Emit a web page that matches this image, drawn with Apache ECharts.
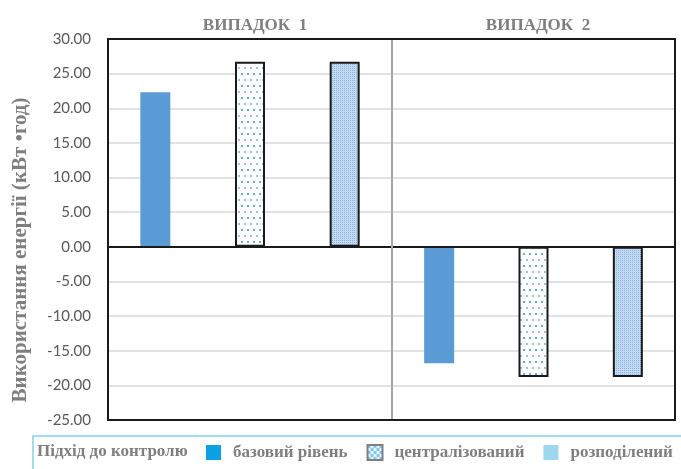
<!DOCTYPE html>
<html>
<head>
<meta charset="utf-8">
<script src="https://cdn.jsdelivr.net/npm/echarts@6/dist/echarts.min.js"></script>
<style>html,body{margin:0;padding:0;background:#fff;}#c{width:681px;height:469px;}</style>
</head>
<body>
<div id="c"></div>
<script>
// ---- data ----
var panels = ['ВИПАДОК  1', 'ВИПАДОК  2'];
var approaches = ['базовий рівень', 'централізований', 'розподілений'];
var case1 = [22.3, 26.7, 26.7];
var case2 = [-16.8, -18.8, -18.8];
var yTicks = { min: -25, max: 30, interval: 5 };
var yTitle = 'Використання енергії (кВт •год)';
var legendTitle = 'Підхід до контролю';

// ---- patterns ----
function sparseDots() {
  var c = document.createElement('canvas'); c.width = 6; c.height = 12;
  var g = c.getContext('2d');
  g.fillStyle = '#ffffff'; g.fillRect(0, 0, 6, 12);
  g.fillStyle = '#72a8dd';
  g.fillRect(1, 1, 2, 2);
  g.fillStyle = '#9cc2ea';
  g.fillRect(4, 7, 2, 2);
  return c;
}
function fineDots() {
  var c = document.createElement('canvas'); c.width = 2; c.height = 2;
  var g = c.getContext('2d');
  g.fillStyle = '#c3daf2'; g.fillRect(0, 0, 2, 2);
  g.fillStyle = '#8ab3e2'; g.fillRect(0, 0, 1, 1);
  return c;
}
function legendSpeckle() {
  var c = document.createElement('canvas'); c.width = 6; c.height = 6;
  var g = c.getContext('2d');
  g.fillStyle = '#e6f4fb'; g.fillRect(0, 0, 6, 6);
  g.fillStyle = '#7fc8ee'; g.fillRect(0, 0, 3, 3); g.fillRect(3, 3, 3, 3);
  return c;
}
var styles = [
  { color: '#5b9bd5', borderWidth: 0 },
  { color: { image: sparseDots(), repeat: 'repeat' }, borderColor: '#1a1a1a', borderWidth: 2 },
  { color: { image: fineDots(), repeat: 'repeat' }, borderColor: '#1a1a1a', borderWidth: 2 }
];
var legendStyles = [
  { color: '#0aa0e4', borderWidth: 0 },
  { color: { image: legendSpeckle(), repeat: 'repeat' }, borderColor: '#7f7f7f', borderWidth: 2 },
  { color: '#9dd7ed', borderWidth: 0 }
];

var serif = '"Liberation Serif", "DejaVu Serif", serif';
var G = { left: 108, mid: 392, right: 675, top: 39, bottom: 420 };
var grids = [
  { left: G.left, width: G.mid - G.left, top: G.top, height: G.bottom - G.top },
  { left: G.mid, width: G.right - G.mid, top: G.top, height: G.bottom - G.top }
];
function xAx(i) {
  return {
    type: 'category', gridIndex: i, data: approaches,
    axisLine: { onZero: true, lineStyle: { color: '#1a1a1a', width: 2 } },
    axisTick: { show: false }, axisLabel: { show: false }, z: 3
  };
}
function yAx(i) {
  return {
    type: 'value', gridIndex: i, min: yTicks.min, max: yTicks.max, interval: yTicks.interval,
    axisLine: { show: false },
    axisTick: { show: false },
    splitLine: { show: true, lineStyle: { color: '#e2e2e2', width: 2 } },
    axisLabel: {
      show: i === 0, color: '#595959', fontSize: 15, fontFamily: 'Lato, "Open Sans", sans-serif', margin: 17,
      formatter: function (v) { return v.toFixed(2); }
    }
  };
}
var series = [];
[case1, case2].forEach(function (vals, gi) {
  approaches.forEach(function (name, k) {
    var d = approaches.map(function (_, j) { return j === k ? vals[k] : '-'; });
    series.push({
      type: 'bar', name: name, xAxisIndex: gi, yAxisIndex: gi, stack: 'g' + gi,
      barWidth: 30, data: d, itemStyle: styles[k], emphasis: { disabled: true }, z: 2
    });
  });
});

var chart = echarts.init(document.getElementById('c'));
chart.setOption({
  animation: false,
  grid: grids,
  xAxis: [xAx(0), xAx(1)],
  yAxis: [yAx(0), yAx(1)],
  title: [
    { text: panels[0], left: 250, top: 12, textAlign: 'center',
      textStyle: { color: '#7f7f7f', fontFamily: serif, fontSize: 17, fontWeight: 'bold' } },
    { text: panels[1], left: 533, top: 12, textAlign: 'center',
      textStyle: { color: '#7f7f7f', fontFamily: serif, fontSize: 17, fontWeight: 'bold' } }
  ],
  legend: {
    left: 201, top: 439, itemWidth: 15, itemHeight: 15, itemGap: 19,
    selectedMode: false,
    textStyle: { color: '#7f7f7f', fontFamily: serif, fontSize: 17, fontWeight: 'bold', padding: [0, 0, 0, 7] },
    data: approaches.map(function (n, k) { return { name: n, icon: 'rect', itemStyle: legendStyles[k] }; })
  },
  graphic: [
    { type: 'line', z: 10, silent: true,
      shape: { x1: G.mid, y1: G.top, x2: G.mid, y2: G.bottom },
      style: { stroke: '#a6a6a6', lineWidth: 2 } },
    { type: 'rect', z: 11, silent: true,
      shape: { x: G.left, y: G.top, width: G.right - G.left, height: G.bottom - G.top },
      style: { fill: 'none', stroke: '#1a1a1a', lineWidth: 2 } },
    { type: 'rect', shape: { x: 33, y: 436, width: 700, height: 60 },
      style: { fill: 'none', stroke: '#9fdcf0', lineWidth: 2 }, silent: true },
    { type: 'text', x: 37, y: 452, silent: true,
      style: { text: legendTitle, fill: '#7f7f7f', font: 'bold 17px ' + serif, verticalAlign: 'middle' } },
    { type: 'text', x: 21, y: 250, rotation: Math.PI / 2, silent: true,
      style: { text: yTitle, fill: '#7f7f7f', font: 'bold 21px ' + serif, align: 'center', verticalAlign: 'middle' } }
  ],
  series: series
});
</script>
</body>
</html>
